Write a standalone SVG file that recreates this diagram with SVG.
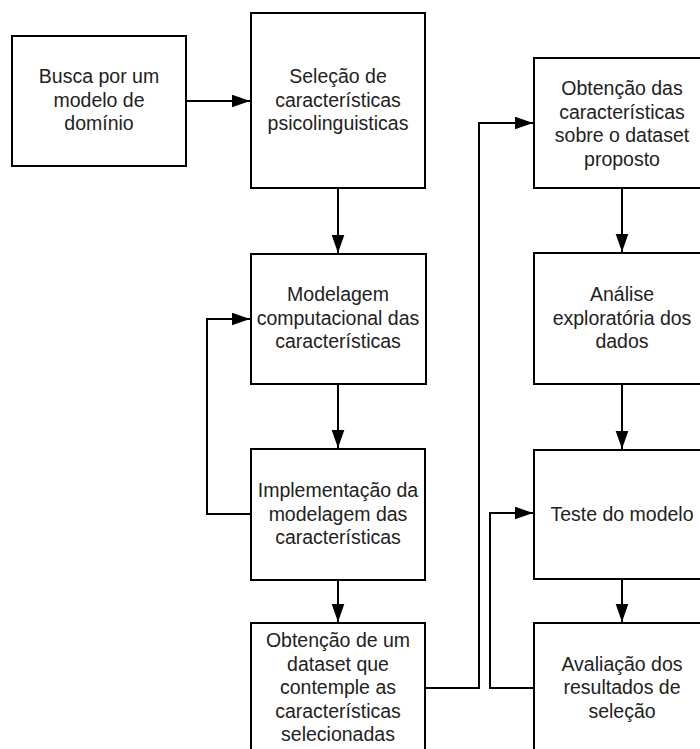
<svg xmlns="http://www.w3.org/2000/svg" width="700" height="749" viewBox="0 0 700 749">
<style>
.box{fill:#fff;stroke:#000;stroke-width:2}
.t{font-family:"Liberation Sans",Arial,sans-serif;font-size:19.5px;fill:#222;text-anchor:middle}
.c{fill:none;stroke:#000;stroke-width:2;marker-end:url(#ah)}
</style>
<defs>
<marker id="ah" markerUnits="userSpaceOnUse" markerWidth="19" markerHeight="14" refX="18.5" refY="6.5" orient="auto">
<path d="M0,0 L18.5,6.5 L0,13 z" fill="#000"/>
</marker>
</defs>
<rect width="700" height="749" fill="#fff"/>
<g id="connectors">
<path class="c" d="M186,101 H250"/>
<path class="c" d="M338,188 V253"/>
<path class="c" d="M338,384 V448"/>
<path class="c" d="M338,580 V622"/>
<path class="c" d="M251,514 H207 V319 H250"/>
<path class="c" d="M425,688 H479 V123 H533"/>
<path class="c" d="M622,188 V252"/>
<path class="c" d="M622,384 V449"/>
<path class="c" d="M622,579 V622"/>
<path class="c" d="M534,688 H490 V513 H533"/>
</g>
<g id="n1"><rect class="box" x="12" y="36" width="174" height="130"/>
<text class="t" x="99" y="83">Busca por um</text><text class="t" x="99" y="106.5">modelo de</text><text class="t" x="99" y="130">domínio</text></g>
<g id="n2"><rect class="box" x="251" y="13" width="174" height="175"/>
<text class="t" x="338" y="83">Seleção de</text><text class="t" x="338" y="106.5">características</text><text class="t" x="338" y="130">psicolinguisticas</text></g>
<g id="n3"><rect class="box" x="251" y="254" width="175" height="130"/>
<text class="t" x="338" y="301">Modelagem</text><text class="t" x="338" y="324.5">computacional das</text><text class="t" x="338" y="348">características</text></g>
<g id="n4"><rect class="box" x="251" y="449" width="174" height="131"/>
<text class="t" x="338" y="497">Implementação da</text><text class="t" x="338" y="520.5">modelagem das</text><text class="t" x="338" y="544">características</text></g>
<g id="n5"><rect class="box" x="251" y="623" width="174" height="131"/>
<text class="t" x="338" y="647">Obtenção de um</text><text class="t" x="338" y="670.5">dataset que</text><text class="t" x="338" y="694">contemple as</text><text class="t" x="338" y="717.5">características</text><text class="t" x="338" y="741">selecionadas</text></g>
<g id="n6"><rect class="box" x="534" y="58" width="176" height="130"/>
<text class="t" x="622" y="95">Obtenção das</text><text class="t" x="622" y="118.5">características</text><text class="t" x="622" y="142">sobre o dataset</text><text class="t" x="622" y="165.5">proposto</text></g>
<g id="n7"><rect class="box" x="534" y="253" width="176" height="131"/>
<text class="t" x="622" y="301">Análise</text><text class="t" x="622" y="324.5">exploratória dos</text><text class="t" x="622" y="348">dados</text></g>
<g id="n8"><rect class="box" x="534" y="450" width="176" height="129"/>
<text class="t" x="622" y="520.5">Teste do modelo</text></g>
<g id="n9"><rect class="box" x="534" y="623" width="176" height="131"/>
<text class="t" x="622" y="670.5">Avaliação dos</text><text class="t" x="622" y="694">resultados de</text><text class="t" x="622" y="717.5">seleção</text></g>
</svg>
